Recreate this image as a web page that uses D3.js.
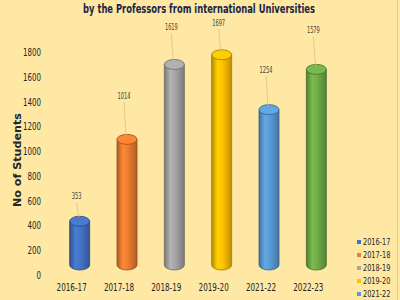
<!DOCTYPE html>
<html><head><meta charset="utf-8">
<script src="https://cdn.jsdelivr.net/npm/d3@7"></script>
<style>html,body{margin:0;padding:0;background:#FEE8A4;}svg{display:block;}</style>
</head><body>
<svg id="c" width="400" height="300"></svg>
<script>
const categories = ["2016-17","2017-18","2018-19","2019-20","2021-22","2022-23"];
const values = [353, 1014, 1619, 1697, 1254, 1579];
const colors = ["#4472C4","#ED7D31","#A5A5A5","#FFC000","#5B9BD5","#70AD47"];
const yTicks = [0,200,400,600,800,1000,1200,1400,1600,1800];
const titleText = "by the Professors from international Universities";
const yTitle = "No of Students";
const labelLift = [22, 40, 34, 29, 37, 36];

const FONT = "'DejaVu Sans Condensed','DejaVu Sans',sans-serif";
function squeeze(sel, perChar){
  sel.each(function(){
    const t = d3.select(this); const s = t.text();
    t.attr("textLength", s.length*perChar).attr("lengthAdjust","spacingAndGlyphs");
  });
}

const svg = d3.select("#c");
svg.append("rect").attr("width",400).attr("height",300).attr("fill","#FEE8A4");
svg.append("line").attr("x1",397.5).attr("x2",397.5).attr("y1",0).attr("y2",300).attr("stroke","#E6CF8A").attr("stroke-width",1);

const x = d3.scaleBand().domain(categories).range([48,332]).padding(0);
const y = d3.scaleLinear().domain([0,1800]).range([275,52]);
const depth = 10, barW = 20, ry = 5, shift = 8;

const defs = svg.append("defs");
colors.forEach((c,i)=>{
  const g = defs.append("linearGradient").attr("id","g"+i).attr("x1","0%").attr("x2","100%").attr("y1","0%").attr("y2","0%");
  const base = d3.color(c);
  g.append("stop").attr("offset","0%").attr("stop-color", base.darker(0.9));
  g.append("stop").attr("offset","30%").attr("stop-color", base.brighter(0.25));
  g.append("stop").attr("offset","55%").attr("stop-color", base);
  g.append("stop").attr("offset","100%").attr("stop-color", base.darker(0.8));
});

// title
svg.append("text").attr("x",199).attr("y",13).attr("text-anchor","middle")
  .attr("font-family","'DejaVu Sans', Verdana, sans-serif").attr("font-weight","bold")
  .attr("font-size",12.5).attr("fill","#1B2448")
  .attr("textLength",232).attr("lengthAdjust","spacingAndGlyphs").text(titleText);

// y axis
const yAxis = d3.axisLeft(y).tickValues(yTicks).tickSize(0).tickPadding(3).tickFormat(d3.format("d"));
const ga = svg.append("g").attr("transform","translate(44,0)").call(yAxis);
ga.select(".domain").remove();
ga.selectAll("text").attr("font-family",FONT).attr("font-size",11).attr("fill","#262626").call(squeeze,4.5);

svg.append("text").attr("transform","translate(21,160) rotate(-90)").attr("text-anchor","middle")
  .attr("font-family","'DejaVu Sans', Verdana, sans-serif").attr("font-weight","bold")
  .attr("font-size",10).attr("fill","#262626")
  .attr("textLength",94).attr("lengthAdjust","spacingAndGlyphs").text(yTitle);

// x axis
const xAxis = d3.axisBottom(x).tickSize(0).tickPadding(0);
const gx = svg.append("g").attr("transform","translate(0,283)").call(xAxis);
gx.select(".domain").remove();
gx.selectAll("text").attr("font-family",FONT).attr("font-size",11).attr("fill","#262626").call(squeeze,4.3);

// bars (cylinders)
const bars = svg.append("g").selectAll("g").data(categories).join("g");
bars.each(function(c,i){
  const g = d3.select(this);
  const cx = x(c) + x.bandwidth()/2 + shift;
  const yb = y(0) - depth, yt = y(values[i]) - depth;
  const base = d3.color(colors[i]);
  const outline = base.darker(1.3);
  g.append("path")
    .attr("d", `M${cx-barW/2},${yt} L${cx-barW/2},${yb} A${barW/2},${ry} 0 0 0 ${cx+barW/2},${yb} L${cx+barW/2},${yt} Z`)
    .attr("fill","url(#g"+i+")").attr("stroke",outline).attr("stroke-width",0.8);
  g.append("ellipse").attr("cx",cx).attr("cy",yt).attr("rx",barW/2).attr("ry",ry)
    .attr("fill", base.brighter(0.2)).attr("stroke",outline).attr("stroke-width",0.8);
  const lx = cx - 3, ly = yt - labelLift[i];
  g.append("line").attr("x1",lx).attr("x2",cx-1).attr("y1",ly+3).attr("y2",yt-ry+1)
    .attr("stroke","#D8C28C").attr("stroke-width",0.8);
  g.append("text").attr("x",lx).attr("y",ly).attr("text-anchor","middle")
    .attr("font-family",FONT).attr("font-size",8).attr("fill","#404040")
    .text(d3.format("d")(values[i])).call(squeeze,3.2);
});

// legend
const leg = svg.append("g").selectAll("g").data(categories).join("g")
  .attr("transform",(d,i)=>`translate(357,${245 + i*13})`);
leg.append("rect").attr("x",0).attr("y",-5).attr("width",4).attr("height",4).attr("fill",(d,i)=>colors[i]);
leg.append("text").attr("x",6).attr("y",0).attr("font-family",FONT)
  .attr("font-size",9.5).attr("fill","#262626").text(d=>d).call(squeeze,3.9);
</script>
</body></html>
